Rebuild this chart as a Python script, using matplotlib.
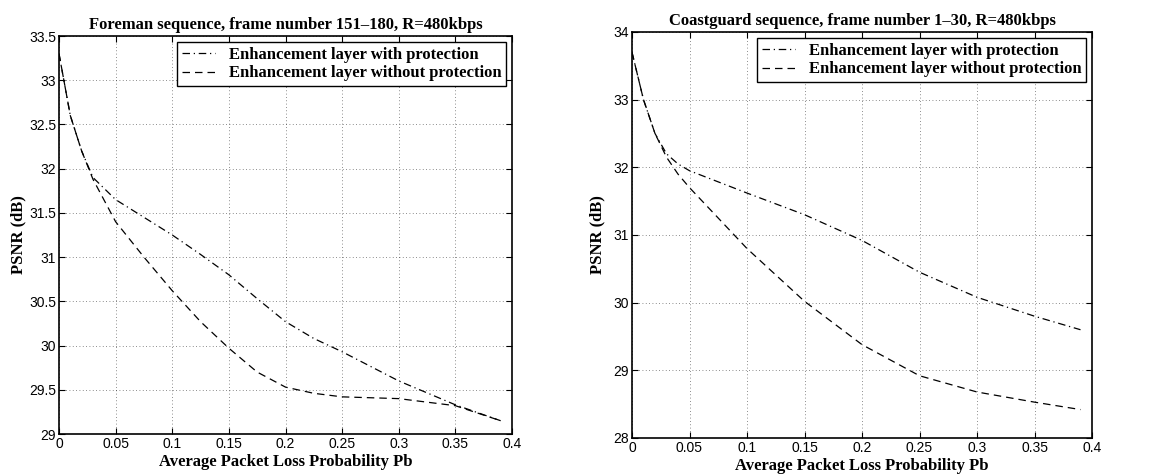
import matplotlib
matplotlib.use("Agg")
import matplotlib.pyplot as plt

# Foreman (left)
pb_f = [0, 0.01, 0.02, 0.03, 0.05, 0.075, 0.1, 0.125, 0.15, 0.175, 0.2, 0.225, 0.25, 0.3, 0.35, 0.39]
prot_f = [33.3, 32.6, 32.2, 31.9, 31.65, 31.45, 31.25, 31.03, 30.8, 30.53, 30.27, 30.08, 29.93, 29.6, 29.33, 29.15]
noprot_f = [33.3, 32.6, 32.2, 31.88, 31.4, 31.0, 30.62, 30.27, 29.97, 29.7, 29.53, 29.46, 29.42, 29.4, 29.32, 29.15]

# Coastguard (right)
pb_c = [0, 0.01, 0.02, 0.03, 0.04, 0.05, 0.1, 0.15, 0.2, 0.25, 0.3, 0.35, 0.39]
prot_c = [33.7, 33.0, 32.5, 32.2, 32.05, 31.95, 31.62, 31.3, 30.92, 30.45, 30.08, 29.8, 29.6]
noprot_c = [33.7, 33.0, 32.5, 32.15, 31.9, 31.7, 30.8, 30.02, 29.38, 28.92, 28.68, 28.53, 28.42]

labels = ["Enhancement layer with protection", "Enhancement layer without protection"]
xticks = [0, 0.05, 0.1, 0.15, 0.2, 0.25, 0.3, 0.35, 0.4]
xticklabels = ["0", "0.05", "0.1", "0.15", "0.2", "0.25", "0.3", "0.35", "0.4"]

serif = "Liberation Serif"
sans = "Liberation Sans"

fig = plt.figure(figsize=(11.64, 4.74), dpi=100)
ax1 = fig.add_axes([59 / 1164, 1 - 434 / 474, 453 / 1164, 398 / 474])
ax2 = fig.add_axes([632 / 1164, 1 - 438 / 474, 460 / 1164, 406 / 474])

panels = [
    (ax1, pb_f, prot_f, noprot_f, "Foreman sequence, frame number 151\u2013180, R=480kbps",
     (29, 33.5), [29, 29.5, 30, 30.5, 31, 31.5, 32, 32.5, 33, 33.5],
     ["29", "29.5", "30", "30.5", "31", "31.5", "32", "32.5", "33", "33.5"], 2),
    (ax2, pb_c, prot_c, noprot_c, "Coastguard sequence, frame number 1\u201330, R=480kbps",
     (28, 34), [28, 29, 30, 31, 32, 33, 34],
     ["28", "29", "30", "31", "32", "33", "34"], 6),
]

for ax, x, p, n, title, ylim, yt, ytl, ypad in panels:
    ax.plot(x, p, color="black", lw=0.9, linestyle=(0, (6, 3, 1, 3)), label=labels[0])
    ax.plot(x, n, color="black", lw=0.9, linestyle=(0, (6, 4)), label=labels[1])
    ax.set_xlim(0, 0.4)
    ax.set_ylim(*ylim)
    ax.set_xticks(xticks)
    ax.set_xticklabels(xticklabels, fontfamily=sans, fontsize=10)
    ax.set_yticks(yt)
    ax.set_yticklabels(ytl, fontfamily=sans, fontsize=10)
    ax.tick_params(direction="in", top=True, right=True, length=4, width=0.8, pad=2)
    ax.grid(True, linestyle=(0, (1, 3)), color="black", lw=0.6, alpha=0.6)
    for s in ax.spines.values():
        s.set_linewidth(1.2)
    ax.set_title(title, fontfamily=serif, fontweight="bold", fontsize=12, pad=5)
    ax.set_xlabel("Average Packet Loss Probability Pb", fontfamily=serif, fontweight="bold", fontsize=12, labelpad=2)
    ax.set_ylabel("PSNR (dB)", fontfamily=serif, fontweight="bold", fontsize=12, labelpad=ypad)
    leg = ax.legend(loc="upper right", prop={"family": serif, "weight": "bold", "size": 12},
                    fancybox=False, edgecolor="black", framealpha=1, borderpad=0.3,
                    labelspacing=0.15, handlelength=2.0, handletextpad=0.8, borderaxespad=0.35)
    leg.get_frame().set_linewidth(1.0)

fig.savefig("out.png", dpi=100)
